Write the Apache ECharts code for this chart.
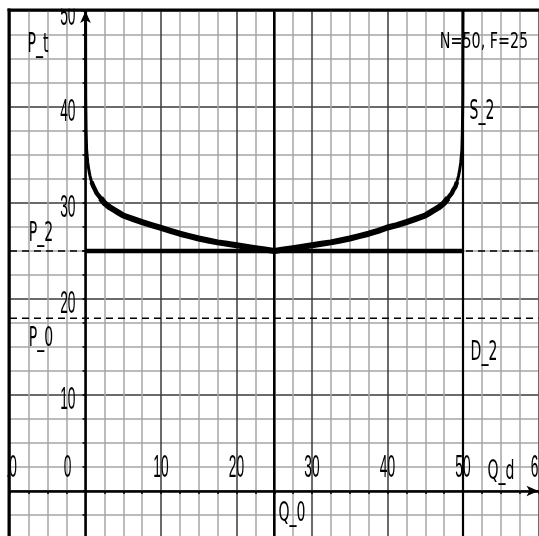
<!DOCTYPE html>
<html>
<head>
<meta charset="utf-8">
<script src="https://cdn.jsdelivr.net/npm/echarts@6/dist/echarts.min.js"></script>
<style>
html,body{margin:0;padding:0;background:#fff;}
#chart{width:539px;height:536px;}
</style>
</head>
<body>
<div id="chart"></div>
<script>
// ---- data ----
const xRange = [-10, 60];
const yRange = [-5, 50];
const xTickVals = [-10, 0, 10, 20, 30, 40, 50, 60];
const yTickVals = [10, 20, 30, 40, 50];
const priceP2 = 25;    // P_2
const priceP0 = 18;    // P_0
const quantityQ0 = 25; // Q_0
const quantityN = 50;  // D_2 (N)
const supplyQ = [0.01, 0.03, 0.08, 0.15, 0.3, 0.45, 0.6, 0.8, 1.0, 1.25, 1.5, 2.0, 2.5, 3.125, 3.75, 4.375, 5,
                 6.25, 7.5, 8.75, 10, 11.25, 12.5, 13.75, 15, 16.25, 17.5, 18.75, 20, 21.25, 22.5, 23.75, 25,
                 26.25, 27.5, 28.75, 30, 31.25, 32.5, 33.75, 35, 36.25, 37.5, 38.75, 40, 41.25, 42.5, 43.75, 45,
                 45.625, 46.25, 46.875, 47.5, 48, 48.5, 48.75, 49, 49.2, 49.4, 49.55, 49.7, 49.85, 49.92, 49.97, 49.99];
const supplyP = [50, 41, 37.5, 35.5, 34.2, 33.4, 32.8, 32.2, 31.8, 31.4, 31.0, 30.5, 30.0, 29.6, 29.3, 29.0, 28.7,
                 28.35, 28.0, 27.7, 27.4, 27.1, 26.8, 26.55, 26.3, 26.1, 25.9, 25.75, 25.6, 25.45, 25.3, 25.15, 25,
                 25.15, 25.3, 25.45, 25.6, 25.75, 25.9, 26.1, 26.3, 26.55, 26.8, 27.1, 27.45, 27.7, 28.0, 28.35, 28.7,
                 29.0, 29.3, 29.6, 30.0, 30.5, 31.0, 31.4, 31.7, 32.2, 32.8, 33.4, 34.2, 35.5, 37.5, 41, 50];
const annotations = ['P_t', 'P_2', 'P_0', 'S_2', 'D_2', 'Q_d', 'Q_0', 'N=50, F=25'];

// ---- build ----
const supplyData = supplyQ.map((q, i) => [q, supplyP[i]]);
const supplyMid = supplyData.filter(d => d[0] >= 0.8 && d[0] <= 49.2);
const supplyCore = supplyData.filter(d => d[0] >= 2.0 && d[0] <= 48);

const chart = echarts.init(document.getElementById('chart'), null, {renderer: 'canvas'});
const MAJOR = '#3a3a3a', MINOR = '#a6a6a6';

function tickLabelSeries(vals, isX) {
  return {
    type: 'custom',
    coordinateSystem: 'cartesian2d',
    silent: true,
    clip: false,
    z: 5,
    data: vals.map(v => isX ? [v, 0] : [0, v]),
    renderItem: function (params, api) {
      const v = isX ? api.value(0) : api.value(1);
      const p = api.coord([api.value(0), api.value(1)]);
      let dx = 0;
      if (isX && v === 0) dx = -18;
      if (isX && v === xRange[0]) dx = -3;
      return {
        type: 'text',
        x: isX ? p[0] + dx : p[0] - 10,
        y: isX ? p[1] - 23 : p[1] + 5,
        scaleX: 0.43,
        style: {
          text: String(v),
          fontFamily: 'Liberation Sans',
          fontSize: 32,
          fill: '#000',
          align: isX ? 'center' : 'right',
          verticalAlign: 'middle'
        }
      };
    }
  };
}

function annot(text, x, y, size, sx) {
  return {
    type: 'text', x: x, y: y, scaleX: sx, z: 50, silent: true,
    style: {text: text, fontFamily: 'DejaVu Sans', fontSize: size, fill: '#000',
            align: 'center', verticalAlign: 'middle'}
  };
}

function lineSeries(name, data, width, dash, z) {
  return {name: name, type: 'line', symbol: 'none', silent: true, z: z, smooth: false,
          data: data, lineStyle: {color: '#000', width: width, type: dash || 'solid', cap: 'butt', join: 'round'}};
}

const option = {
  animation: false,
  backgroundColor: '#fff',
  grid: {left: 10, top: 11, width: 528.5, height: 528, containLabel: false, outerBoundsMode: 'none'},
  xAxis: {
    type: 'value', min: xRange[0], max: xRange[1], interval: 2.5,
    axisLine: {show: true, onZero: true, symbol: ['none', 'arrow'], symbolSize: [8, 12],
               lineStyle: {color: '#000', width: 2.5}},
    axisTick: {show: true, length: 3, lineStyle: {color: '#000', width: 1.5}},
    axisLabel: {show: false},
    splitLine: {show: true, lineStyle: {color: [MAJOR, MINOR, MINOR, MINOR], width: 1.5}}
  },
  yAxis: {
    type: 'value', min: yRange[0], max: yRange[1], interval: 2.5,
    axisLine: {show: true, onZero: true, symbol: ['none', 'arrow'], symbolSize: [8, 12],
               lineStyle: {color: '#000', width: 2.5}},
    axisTick: {show: true, length: 3, lineStyle: {color: '#000', width: 1.5}},
    axisLabel: {show: false},
    splitLine: {show: true, lineStyle: {color: [MINOR, MINOR, MAJOR, MINOR], width: 1.5}}
  },
  series: [
    lineSeries('P_2 level', [[xRange[0], priceP2], [xRange[1], priceP2]], 1.5, [7, 5], 3),
    lineSeries('P_0 level', [[xRange[0], priceP0], [xRange[1], priceP0]], 1.5, [7, 5], 3),
    lineSeries('Q_0', [[quantityQ0, yRange[0]], [quantityQ0, yRange[1]]], 2.5, null, 3),
    lineSeries('D_2', [[quantityN, yRange[0]], [quantityN, yRange[1]]], 2.2, null, 3),
    lineSeries('P_2', [[0, priceP2], [quantityN, priceP2]], 4.5, null, 4),
    lineSeries('S_2', supplyData, 3, null, 4),
    lineSeries('S_2 mid', supplyMid, 4.5, null, 4),
    lineSeries('S_2 core', supplyCore, 6, null, 4),
    tickLabelSeries(xTickVals, true),
    tickLabelSeries(yTickVals, false)
  ],
  graphic: {
    elements: [
      annot(annotations[0], 38, 45, 27, 0.52),
      annot(annotations[1], 41, 234, 27, 0.52),
      annot(annotations[2], 41, 339, 27, 0.52),
      annot(annotations[3], 482, 112, 27, 0.52),
      annot(annotations[4], 484, 353, 27, 0.52),
      annot(annotations[5], 501, 472, 27, 0.52),
      annot(annotations[6], 292, 514, 27, 0.52),
      annot(annotations[7], 484, 42, 22, 0.65),
      // white margin outside the frame
      {type: 'rect', z: 100, silent: true, shape: {x: 0, y: 0, width: 7.5, height: 536}, style: {fill: '#fff'}},
      {type: 'rect', z: 100, silent: true, shape: {x: 0, y: 0, width: 539, height: 8.5}, style: {fill: '#fff'}},
      // frame (left and top edges)
      {type: 'rect', z: 101, silent: true, shape: {x: 7.5, y: 8.5, width: 3, height: 528}, style: {fill: '#000'}},
      {type: 'rect', z: 101, silent: true, shape: {x: 7.5, y: 8.5, width: 532, height: 3}, style: {fill: '#000'}}
    ]
  }
};
chart.setOption(option);
</script>
</body>
</html>
